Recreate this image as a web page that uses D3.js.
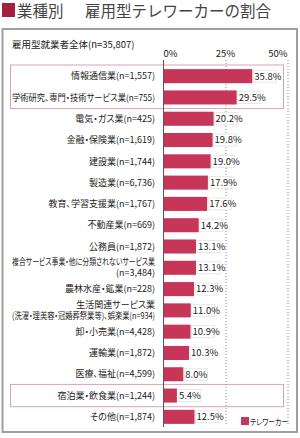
<!DOCTYPE html>
<html lang="ja">
<head>
<meta charset="utf-8">
<title>業種別 雇用型テレワーカーの割合</title>
<script src="https://d3js.org/d3.v7.js"></script>
<style>
  body { margin: 0; background: #fff; }
  svg { display: block; font-family: "Noto Sans CJK JP", "Noto Sans", sans-serif; }
  .lbl { font-feature-settings: "palt"; }
</style>
</head>
<body>
<svg></svg>
<script>
  // data
  const industries = [
    ['情報通信業(n=1,557)'],
    ['学術研究、専門・技術サービス業(n=755)'],
    ['電気・ガス業(n=425)'],
    ['金融・保険業(n=1,619)'],
    ['建設業(n=1,744)'],
    ['製造業(n=6,736)'],
    ['教育、学習支援業(n=1,767)'],
    ['不動産業(n=669)'],
    ['公務員(n=1,872)'],
    ['複合サービス事業・他に分類されないサービス業', '(n=3,484)'],
    ['農林水産・鉱業(n=228)'],
    ['生活関連サービス業', '(洗濯・理美容・冠婚葬祭業等)、娯楽業(n=934)'],
    ['卸・小売業(n=4,428)'],
    ['運輸業(n=1,872)'],
    ['医療、福祉(n=4,599)'],
    ['宿泊業・飲食業(n=1,244)'],
    ['その他(n=1,874)']
  ];
  const teleworkRate = [35.8, 29.5, 20.2, 19.8, 19.0, 17.9, 17.6, 14.2, 13.1, 13.1, 12.3, 11.0, 10.9, 10.3, 8.0, 5.4, 12.5];
  const ticks = [0, 25, 50];
  const highlighted = [[0, 1], [15, 15]];

  const w = 300, h = 438;
  const barColor = '#c73659';
  const labelRight = 155, labelMax = 143;

  const svg = d3.select('svg').attr('width', w).attr('height', h);

  const keys = industries.map((d, i) => i);
  const y = d3.scaleBand().domain(keys).range([65.5, 427.5]).paddingInner(0.34).paddingOuter(0.17);
  const x = d3.scaleLinear().domain([0, 50]).range([163.5, 287.5]);

  // title
  svg.append('rect').attr('x', 2).attr('y', 3).attr('width', 13).attr('height', 14).attr('fill', '#a3213f');
  svg.append('text').attr('x', 17).attr('y', 17).attr('font-size', 15.5).attr('fill', '#444').text('業種別');
  svg.append('text').attr('x', 85).attr('y', 17).attr('font-size', 15.5).attr('fill', '#444').text('雇用型テレワーカーの割合');

  // panel border
  svg.append('rect').attr('x', 2.5).attr('y', 29).attr('width', 294.5).attr('height', 403)
    .attr('fill', 'none').attr('stroke', '#a0a0a0').attr('stroke-width', 2);

  svg.append('text').attr('x', 12).attr('y', 47.5).attr('font-size', 9.5).attr('fill', '#222')
    .text('雇用型就業者全体(n=35,807)');

  // highlight boxes
  highlighted.forEach(([a, b]) => {
    const top = y(a) - y.step() * y.paddingInner() / 2 - 0.5;
    const bottom = y(b) + y.bandwidth() + y.step() * y.paddingInner() / 2 + 0.5;
    svg.append('rect').attr('x', 10.5).attr('y', top).attr('width', 273).attr('height', bottom - top)
      .attr('fill', 'none').attr('stroke', '#d9a3b3').attr('stroke-width', 1);
  });

  // ticks and grid
  const axis = svg.append('g');
  axis.selectAll('text').data(ticks).join('text')
    .attr('x', d => x(d))
    .attr('y', 57)
    .attr('font-size', 9.5)
    .attr('fill', '#222')
    .attr('text-anchor', (d, i) => i == 0 ? 'start' : (i == ticks.length - 1 ? 'end' : 'middle'))
    .text(d => d + '%');
  axis.selectAll('line.grid').data(ticks.slice(1)).join('line')
    .attr('class', 'grid')
    .attr('x1', d => x(d) + 0.5).attr('x2', d => x(d) + 0.5)
    .attr('y1', 60).attr('y2', 426)
    .attr('stroke', '#888').attr('stroke-width', 1).attr('stroke-dasharray', '1,2');

  // bars
  svg.selectAll('rect.bar').data(teleworkRate).join('rect')
    .attr('class', 'bar')
    .attr('x', x(0))
    .attr('y', (d, i) => y(i))
    .attr('width', d => x(d) - x(0))
    .attr('height', y.bandwidth())
    .attr('fill', barColor);

  // zero line
  svg.append('line').attr('x1', x(0)).attr('x2', x(0)).attr('y1', 60).attr('y2', 427)
    .attr('stroke', '#555').attr('stroke-width', 1);

  // category labels, squeezed when wider than the label column
  industries.forEach((d, i) => {
    const cy = y(i) + y.bandwidth() / 2;
    d.forEach((s, j) => {
      const off = d.length == 1 ? 3.2 : (j == 0 ? -2.6 : 8.6);
      const t = svg.append('text')
        .attr('class', 'cat lbl')
        .attr('text-anchor', 'end')
        .attr('x', labelRight)
        .attr('y', cy + off)
        .attr('font-size', 9)
        .attr('fill', '#222')
        .text(s);
      if (t.node().getComputedTextLength() > labelMax) {
        t.attr('textLength', labelMax).attr('lengthAdjust', 'spacingAndGlyphs');
      }
    });
  });

  // value labels
  const vals = svg.selectAll('g.val').data(teleworkRate).join('g').attr('class', 'val');
  vals.append('rect')
    .attr('x', d => x(d) + 1)
    .attr('y', (d, i) => y(i) + y.bandwidth() / 2 - 6)
    .attr('width', 23).attr('height', 12)
    .attr('fill', '#fff').attr('stroke', '#e2e2e2').attr('stroke-width', 0.8);
  vals.append('text')
    .attr('x', d => x(d) + 2)
    .attr('y', (d, i) => y(i) + y.bandwidth() / 2 + 3.4)
    .attr('font-size', 9.5)
    .attr('fill', '#222')
    .text(d => d.toFixed(1) + '%');

  // legend
  svg.append('rect').attr('x', 241).attr('y', 417).attr('width', 8).attr('height', 8).attr('fill', barColor);
  svg.append('text').attr('class', 'lbl').attr('x', 250).attr('y', 424.5).attr('font-size', 8.5).attr('fill', '#222')
    .attr('textLength', 38).attr('lengthAdjust', 'spacingAndGlyphs').text('テレワーカー');
</script>
</body>
</html>
